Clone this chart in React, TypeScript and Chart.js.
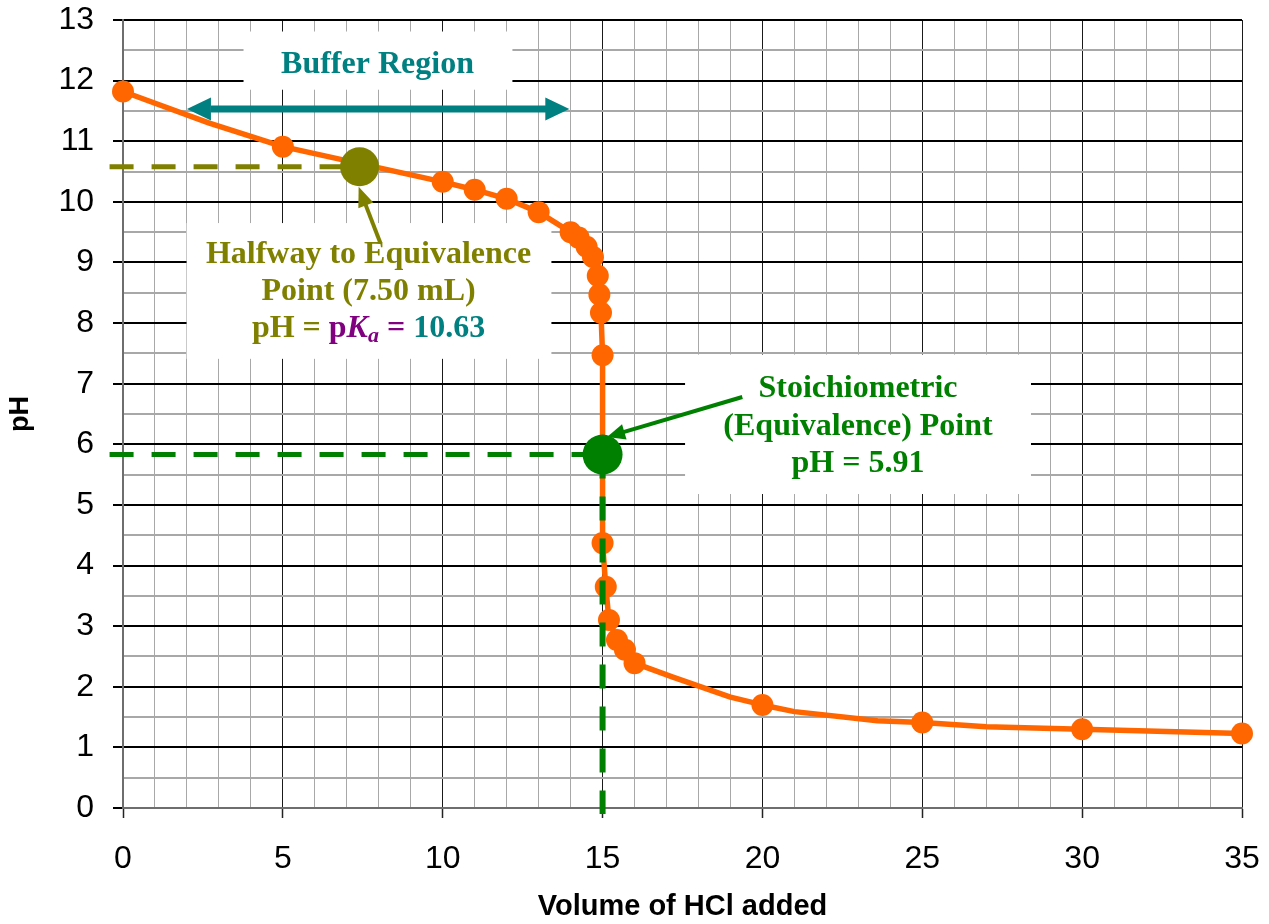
import React, { useEffect, useRef } from 'react';
import { Chart, registerables } from 'chart.js';

Chart.register(...registerables);

// ---- Data ----
// Measured points (drawn with markers)
const markerVolume = [0, 5, 10, 11, 12, 13, 14, 14.25, 14.5, 14.7, 14.85, 14.9, 14.95, 15, 15, 15.1, 15.2, 15.45, 15.7, 16, 20, 25, 30, 35];
const markerPH = [11.82, 10.91, 10.33, 10.2, 10.05, 9.83, 9.5, 9.41, 9.26, 9.09, 8.78, 8.47, 8.17, 7.47, 4.37, 3.65, 3.1, 2.77, 2.61, 2.39, 1.7, 1.41, 1.3, 1.23];

// Curve points (line only)
const curveVolume = [0, 2.7, 5, 10, 11, 12, 13, 14, 14.25, 14.5, 14.7, 14.85, 14.9, 14.95, 15, 15, 15, 15.1, 15.2, 15.45, 15.7, 16, 17.2, 19, 20, 21, 23.6, 25, 27, 30, 35];
const curvePH = [11.82, 11.3, 10.91, 10.33, 10.2, 10.05, 9.83, 9.5, 9.41, 9.26, 9.09, 8.78, 8.47, 8.17, 7.47, 5.83, 4.37, 3.65, 3.1, 2.77, 2.61, 2.39, 2.16, 1.83, 1.7, 1.59, 1.44, 1.41, 1.34, 1.3, 1.23];

// Special points
const halfwayVolume = [7.4];
const halfwayPH = [10.58];
const equivVolume = [15];
const equivPH = [5.83];

// Guide lines (dashed)
const halfwayGuideX = [-0.42, 7.4];
const halfwayGuideY = [10.58, 10.58];
const equivGuideHX = [-0.42, 15];
const equivGuideHY = [5.83, 5.83];
const equivGuideVX = [15, 15];
const equivGuideVY = [5.83, -0.1];

// Axis ticks
const xTickValues = [0, 1, 2, 3, 4, 5, 6, 7, 8, 9, 10, 11, 12, 13, 14, 15, 16, 17, 18, 19, 20, 21, 22, 23, 24, 25, 26, 27, 28, 29, 30, 31, 32, 33, 34, 35];
const xTickLabels = [0, 5, 10, 15, 20, 25, 30, 35];
const yTickValues = [0, 0.5, 1, 1.5, 2, 2.5, 3, 3.5, 4, 4.5, 5, 5.5, 6, 6.5, 7, 7.5, 8, 8.5, 9, 9.5, 10, 10.5, 11, 11.5, 12, 12.5, 13];
const yTickLabels = [0, 1, 2, 3, 4, 5, 6, 7, 8, 9, 10, 11, 12, 13];

// ---- Styles ----
const ORANGE = '#FF6600';
const TEAL = '#008080';
const OLIVE = '#808000';
const GREEN = '#008000';
const PURPLE = '#800080';
const SANS = "'Liberation Sans', Arial, sans-serif";
const SERIF = "'Liberation Serif', 'Times New Roman', serif";
const LABEL_SIZE = 32;

// Annotation layout (in data units)
const whiteBoxes = [
  { x0: 3.77, x1: 12.18, y0: 12.81, y1: 11.85 },
  { x0: 1.99, x1: 13.4, y0: 9.65, y1: 7.41 },
  { x0: 17.58, x1: 28.4, y0: 7.48, y1: 5.18 },
];

type Seg = { t: string; c: string; italic?: boolean; sub?: boolean };
const textLines: { x: number; y: number; segs: Seg[] }[] = [
  { x: 7.96, y: 12.13, segs: [{ t: 'Buffer Region', c: TEAL }] },
  { x: 7.68, y: 8.99, segs: [{ t: 'Halfway to Equivalence', c: OLIVE }] },
  { x: 7.68, y: 8.38, segs: [{ t: 'Point (7.50 mL)', c: OLIVE }] },
  {
    x: 7.68,
    y: 7.77,
    segs: [
      { t: 'pH = ', c: OLIVE },
      { t: 'p', c: PURPLE },
      { t: 'K', c: PURPLE, italic: true },
      { t: 'a', c: PURPLE, italic: true, sub: true },
      { t: ' = ', c: PURPLE },
      { t: '10.63', c: TEAL },
    ],
  },
  { x: 22.99, y: 6.78, segs: [{ t: 'Stoichiometric', c: GREEN }] },
  { x: 22.99, y: 6.16, segs: [{ t: '(Equivalence) Point', c: GREEN }] },
  { x: 22.99, y: 5.54, segs: [{ t: 'pH = 5.91', c: GREEN }] },
];

const arrows = [
  { x0: 2.0, y0: 11.53, x1: 13.96, y1: 11.53, color: TEAL, width: 7, head: 24, half: 11.5, both: true },
  { x0: 8.05, y0: 9.32, x1: 7.37, y1: 10.25, color: OLIVE, width: 4, head: 20, half: 8, both: false },
  { x0: 19.37, y0: 6.78, x1: 15.14, y1: 6.12, color: GREEN, width: 4, head: 18, half: 8, both: false },
];

function pts(xs: number[], ys: number[]) {
  return xs.map((x, i) => ({ x, y: ys[i] }));
}

function drawHead(ctx: CanvasRenderingContext2D, tx: number, ty: number, fx: number, fy: number, len: number, half: number) {
  const a = Math.atan2(ty - fy, tx - fx);
  const bx = tx - len * Math.cos(a);
  const by = ty - len * Math.sin(a);
  ctx.beginPath();
  ctx.moveTo(tx, ty);
  ctx.lineTo(bx + half * Math.sin(a), by - half * Math.cos(a));
  ctx.lineTo(bx - half * Math.sin(a), by + half * Math.cos(a));
  ctx.closePath();
  ctx.fill();
  return { bx, by };
}

const annotationPlugin = {
  id: 'titrationAnnotations',
  beforeDatasetsDraw(chart: any) {
    const { ctx, scales } = chart;
    const xs = scales.x;
    const ys = scales.y;
    ctx.save();
    ctx.fillStyle = '#ffffff';
    for (const b of whiteBoxes) {
      const px0 = xs.getPixelForValue(b.x0);
      const px1 = xs.getPixelForValue(b.x1);
      const py0 = ys.getPixelForValue(b.y0);
      const py1 = ys.getPixelForValue(b.y1);
      ctx.fillRect(Math.min(px0, px1), Math.min(py0, py1), Math.abs(px1 - px0), Math.abs(py1 - py0));
    }
    ctx.restore();
  },
  afterDatasetsDraw(chart: any) {
    const { ctx, scales } = chart;
    const xs = scales.x;
    const ys = scales.y;
    ctx.save();
    // arrows
    for (const a of arrows) {
      const sx = xs.getPixelForValue(a.x0);
      const sy = ys.getPixelForValue(a.y0);
      const ex = xs.getPixelForValue(a.x1);
      const ey = ys.getPixelForValue(a.y1);
      ctx.fillStyle = a.color;
      ctx.strokeStyle = a.color;
      ctx.lineWidth = a.width;
      ctx.lineCap = 'butt';
      const endBase = drawHead(ctx, ex, ey, sx, sy, a.head, a.half);
      let startX = sx;
      let startY = sy;
      if (a.both) {
        const sb = drawHead(ctx, sx, sy, ex, ey, a.head, a.half);
        startX = sb.bx;
        startY = sb.by;
      }
      ctx.beginPath();
      ctx.moveTo(startX, startY);
      ctx.lineTo(endBase.bx + (ex - endBase.bx) * 0.2, endBase.by + (ey - endBase.by) * 0.2);
      ctx.stroke();
    }
    // texts
    ctx.textBaseline = 'alphabetic';
    ctx.textAlign = 'left';
    const fontFor = (s: Seg) =>
      `${s.italic ? 'italic ' : ''}bold ${s.sub ? Math.round(LABEL_SIZE * 0.68) : LABEL_SIZE}px ${SERIF}`;
    for (const line of textLines) {
      const cx = xs.getPixelForValue(line.x);
      const by = ys.getPixelForValue(line.y);
      let total = 0;
      const widths = line.segs.map((s) => {
        ctx.font = fontFor(s);
        const w = ctx.measureText(s.t).width;
        total += w;
        return w;
      });
      let x = cx - total / 2;
      line.segs.forEach((s, i) => {
        ctx.font = fontFor(s);
        ctx.fillStyle = s.c;
        ctx.fillText(s.t, x, by + (s.sub ? 5 : 0));
        x += widths[i];
      });
    }
    ctx.restore();
  },
};

export default function App() {
  const canvasRef = useRef<HTMLCanvasElement | null>(null);

  useEffect(() => {
    const canvas = canvasRef.current;
    if (!canvas) return;
    const chart = new Chart(canvas, {
      type: 'scatter',
      data: {
        datasets: [
          {
            label: 'Equivalence point',
            data: pts(equivVolume, equivPH),
            backgroundColor: GREEN,
            borderWidth: 0,
            pointRadius: 20,
            showLine: false,
            order: 0,
            clip: false,
          } as any,
          {
            label: 'Halfway point',
            data: pts(halfwayVolume, halfwayPH),
            backgroundColor: OLIVE,
            borderWidth: 0,
            pointRadius: 19.5,
            showLine: false,
            order: 0,
            clip: false,
          },
          {
            label: 'Equivalence guide (vertical)',
            data: pts(equivGuideVX, equivGuideVY),
            borderColor: GREEN,
            borderWidth: 6,
            borderDash: [24, 18],
            pointRadius: 0,
            showLine: true,
            order: 1,
            clip: false,
          },
          {
            label: 'Equivalence guide (horizontal)',
            data: pts(equivGuideHX, equivGuideHY),
            borderColor: GREEN,
            borderWidth: 5,
            borderDash: [24, 18],
            pointRadius: 0,
            showLine: true,
            order: 1,
            clip: false,
          },
          {
            label: 'Halfway guide',
            data: pts(halfwayGuideX, halfwayGuideY),
            borderColor: OLIVE,
            borderWidth: 5,
            borderDash: [24, 18],
            pointRadius: 0,
            showLine: true,
            order: 1,
            clip: false,
          },
          {
            label: 'Measured pH',
            data: pts(markerVolume, markerPH),
            backgroundColor: ORANGE,
            borderWidth: 0,
            pointRadius: 11,
            showLine: false,
            order: 2,
            clip: false,
          },
          {
            label: 'Titration curve',
            data: pts(curveVolume, curvePH),
            borderColor: ORANGE,
            borderWidth: 5.5,
            borderJoinStyle: 'round',
            borderCapStyle: 'round',
            pointRadius: 0,
            showLine: true,
            tension: 0,
            order: 3,
            clip: false,
          },
        ],
      },
      options: {
        responsive: false,
        animation: false,
        events: [],
        layout: { padding: { left: 0, right: 27, top: 20, bottom: 0 } },
        plugins: {
          legend: { display: false },
          tooltip: { enabled: false },
        },
        scales: {
          x: {
            type: 'linear',
            position: 'bottom',
            min: 0,
            max: 35,
            afterFit: (s: any) => {
              s.height = 116;
              s.paddingLeft = 0;
              s.paddingRight = 0;
              s.paddingTop = 0;
              s.paddingBottom = 0;
            },
            afterBuildTicks: (s: any) => {
              s.ticks = xTickValues.map((v) => ({ value: v }));
            },
            ticks: {
              autoSkip: false,
              maxRotation: 0,
              minRotation: 0,
              padding: 22,
              color: '#000',
              font: { family: SANS, size: 32 },
              callback: (v: any) => (xTickLabels.includes(Number(v)) ? String(v) : ''),
            },
            grid: {
              color: (c: any) => (c.tick && c.tick.value % 5 === 0 ? '#1a1a1a' : '#a8a8a8'),
              lineWidth: 1,
              tickLength: 10,
              tickWidth: 1.5,
              tickColor: (c: any) => (c.tick && c.tick.value % 5 === 0 ? '#222' : 'rgba(0,0,0,0)'),
            },
            border: { display: true, color: '#6e6e6e', width: 2 },
            title: {
              display: true,
              text: 'Volume of HCl added',
              color: '#000',
              font: { family: SANS, size: 29, weight: 'bold' },
              padding: { top: 0, bottom: 0 },
            },
          },
          y: {
            type: 'linear',
            position: 'left',
            min: 0,
            max: 13,
            afterFit: (s: any) => {
              s.width = 123;
              s.paddingLeft = 0;
              s.paddingRight = 0;
              s.paddingTop = 0;
              s.paddingBottom = 0;
            },
            afterBuildTicks: (s: any) => {
              s.ticks = yTickValues.map((v) => ({ value: v }));
            },
            ticks: {
              autoSkip: false,
              padding: 19,
              color: '#000',
              font: { family: SANS, size: 32 },
              callback: (v: any) => (yTickLabels.includes(Number(v)) ? String(v) : ''),
            },
            grid: {
              color: (c: any) =>
                c.tick && Number.isInteger(c.tick.value) ? (c.tick.value === 0 ? '#6e6e6e' : '#000') : '#a8a8a8',
              lineWidth: 2,
              tickLength: 10,
              tickWidth: 2,
              tickColor: (c: any) => (c.tick && Number.isInteger(c.tick.value) ? '#000' : 'rgba(0,0,0,0)'),
            },
            border: { display: true, color: '#6e6e6e', width: 2 },
            title: {
              display: true,
              text: 'pH',
              color: '#000',
              font: { family: SANS, size: 27, weight: 'bold' },
              padding: { top: 4, bottom: 0 },
            },
          },
        },
      } as any,
      plugins: [annotationPlugin],
    });
    return () => chart.destroy();
  }, []);

  return (
    <div style={{ position: 'absolute', left: 0, top: 0, width: 1269, height: 924, background: '#fff' }}>
      <canvas ref={canvasRef} width={1269} height={924} style={{ display: 'block', width: 1269, height: 924 }} />
    </div>
  );
}
